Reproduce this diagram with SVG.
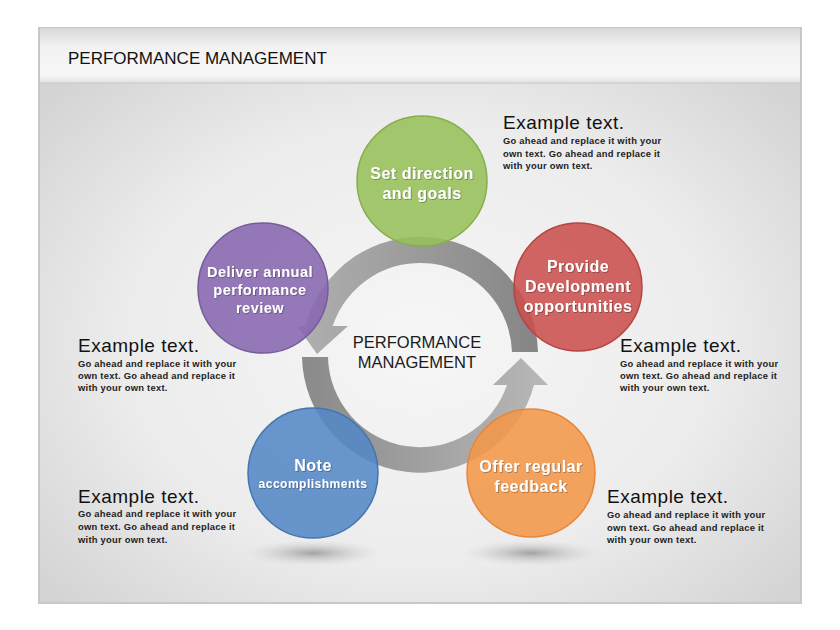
<svg xmlns="http://www.w3.org/2000/svg" width="840" height="630" viewBox="0 0 840 630">
<defs>
  <radialGradient id="bodyG" cx="0.5" cy="0.55" r="0.65">
    <stop offset="0" stop-color="#f6f6f6"/>
    <stop offset="0.6" stop-color="#ececec"/>
    <stop offset="1" stop-color="#d4d4d4"/>
  </radialGradient>
  <linearGradient id="headG" x1="0" y1="0" x2="0" y2="1">
    <stop offset="0" stop-color="#d9d9d9"/>
    <stop offset="0.35" stop-color="#f2f2f2"/>
    <stop offset="0.85" stop-color="#f7f7f7"/>
    <stop offset="1" stop-color="#e2e2e2"/>
  </linearGradient>
  <linearGradient id="upG" x1="0" y1="0" x2="1" y2="0">
    <stop offset="0" stop-color="#b0b0b0"/>
    <stop offset="1" stop-color="#858585"/>
  </linearGradient>
  <linearGradient id="loG" x1="0" y1="0" x2="1" y2="0">
    <stop offset="0" stop-color="#8a8a8a"/>
    <stop offset="1" stop-color="#b8b8b8"/>
  </linearGradient>
  <radialGradient id="shad" cx="0.5" cy="0.5" r="0.5">
    <stop offset="0" stop-color="#9a9a9a" stop-opacity="0.9"/>
    <stop offset="1" stop-color="#d0d0d0" stop-opacity="0"/>
  </radialGradient>
  <filter id="ts" x="-10%" y="-10%" width="120%" height="130%">
    <feDropShadow dx="0.8" dy="0.8" stdDeviation="0.6" flood-color="#000" flood-opacity="0.35"/>
  </filter>
</defs>
<style>
  .ctext { font-family: "Liberation Sans", Arial, sans-serif; font-weight: bold; fill: #ffffff; text-anchor: middle; letter-spacing: 0.5px; }
  .head { font-family: "Liberation Sans", Arial, sans-serif; font-size: 19px; letter-spacing: 0.5px; fill: #111; }
  .body { font-family: "Liberation Sans", Arial, sans-serif; font-size: 9.4px; letter-spacing: 0.25px; font-weight: bold; fill: #222; }
  .circ { stroke-width: 1.5; fill-opacity: 0.88; }
</style>
<rect width="840" height="630" fill="#ffffff"/>
<!-- slide -->
<rect x="38" y="27" width="764" height="577" fill="#c8c8c8"/>
<rect x="40" y="28" width="760" height="574" fill="url(#bodyG)"/>
<rect x="40" y="28" width="760" height="55" fill="url(#headG)"/>
<line x1="40" y1="83" x2="800" y2="83" stroke="#cfcfcf" stroke-width="1.5"/>
<text x="68" y="64" font-family="Liberation Sans, Arial, sans-serif" font-size="17" fill="#111">PERFORMANCE MANAGEMENT</text>

<!-- shadows -->
<ellipse cx="313" cy="553" rx="68" ry="13" fill="url(#shad)"/>
<ellipse cx="531" cy="553" rx="68" ry="13" fill="url(#shad)"/>

<g id="connectors">
  <path d="M 538 352 A 118 118 0 0 0 305.6 326 L 297 326 L 317 354 L 348 326 L 332.7 326 A 92 92 0 0 1 512 352 Z" fill="url(#upG)"/>
  <path d="M 302 357 A 118 118 0 0 0 534 385 L 548 385 L 521 358 L 493 385 L 507 385 A 92 92 0 0 1 328 357 Z" fill="url(#loG)"/>
</g>

<g id="center">
  <text x="417" y="348" font-family="Liberation Sans, Arial, sans-serif" font-size="16.5" fill="#1a1a1a" text-anchor="middle">PERFORMANCE</text>
  <text x="417" y="368" font-family="Liberation Sans, Arial, sans-serif" font-size="16.5" fill="#1a1a1a" text-anchor="middle">MANAGEMENT</text>
</g>

<g id="n-goals">
  <circle class="circ" cx="422" cy="181" r="65" fill="#96c05a" stroke="#86ae4c"/>
  <text class="ctext" x="422" y="179" font-size="16" filter="url(#ts)">Set direction</text>
  <text class="ctext" x="422" y="199" font-size="16" filter="url(#ts)">and goals</text>
</g>
<g id="n-dev">
  <circle class="circ" cx="578" cy="287" r="64" fill="#c9504f" stroke="#b54442"/>
  <text class="ctext" x="578" y="272" font-size="16" filter="url(#ts)">Provide</text>
  <text class="ctext" x="578" y="292" font-size="16" filter="url(#ts)">Development</text>
  <text class="ctext" x="578" y="312" font-size="16" filter="url(#ts)">opportunities</text>
</g>
<g id="n-feedback">
  <circle class="circ" cx="531" cy="473" r="64" fill="#f4974a" stroke="#e5863a"/>
  <text class="ctext" x="531" y="472" font-size="16" filter="url(#ts)">Offer regular</text>
  <text class="ctext" x="531" y="492" font-size="16" filter="url(#ts)">feedback</text>
</g>
<g id="n-note">
  <circle class="circ" cx="313" cy="473" r="65" fill="#5387c6" stroke="#4574b0"/>
  <text class="ctext" x="313" y="471" font-size="16" filter="url(#ts)">Note</text>
  <text class="ctext" x="313" y="488" font-size="12" filter="url(#ts)">accomplishments</text>
</g>
<g id="n-review">
  <circle class="circ" cx="263" cy="288" r="65" fill="#8767ae" stroke="#775a9c"/>
  <text class="ctext" x="260" y="277" font-size="14.5" filter="url(#ts)">Deliver annual</text>
  <text class="ctext" x="260" y="295" font-size="14.5" filter="url(#ts)">performance</text>
  <text class="ctext" x="260" y="313" font-size="14.5" filter="url(#ts)">review</text>
</g>

<g id="t1">
  <text class="head" x="503" y="129">Example text.</text>
  <text class="body" x="503" y="144">Go ahead and replace it with your</text>
  <text class="body" x="503" y="157">own text. Go ahead and replace it</text>
  <text class="body" x="503" y="169">with your own text.</text>
</g>
<g id="t2">
  <text class="head" x="78" y="352">Example text.</text>
  <text class="body" x="78" y="367">Go ahead and replace it with your</text>
  <text class="body" x="78" y="379">own text. Go ahead and replace it</text>
  <text class="body" x="78" y="391">with your own text.</text>
</g>
<g id="t3">
  <text class="head" x="620" y="352">Example text.</text>
  <text class="body" x="620" y="367">Go ahead and replace it with your</text>
  <text class="body" x="620" y="379">own text. Go ahead and replace it</text>
  <text class="body" x="620" y="391">with your own text.</text>
</g>
<g id="t4">
  <text class="head" x="78" y="503">Example text.</text>
  <text class="body" x="78" y="517">Go ahead and replace it with your</text>
  <text class="body" x="78" y="530">own text. Go ahead and replace it</text>
  <text class="body" x="78" y="543">with your own text.</text>
</g>
<g id="t5">
  <text class="head" x="607" y="503">Example text.</text>
  <text class="body" x="607" y="518">Go ahead and replace it with your</text>
  <text class="body" x="607" y="531">own text. Go ahead and replace it</text>
  <text class="body" x="607" y="543">with your own text.</text>
</g>
</svg>
